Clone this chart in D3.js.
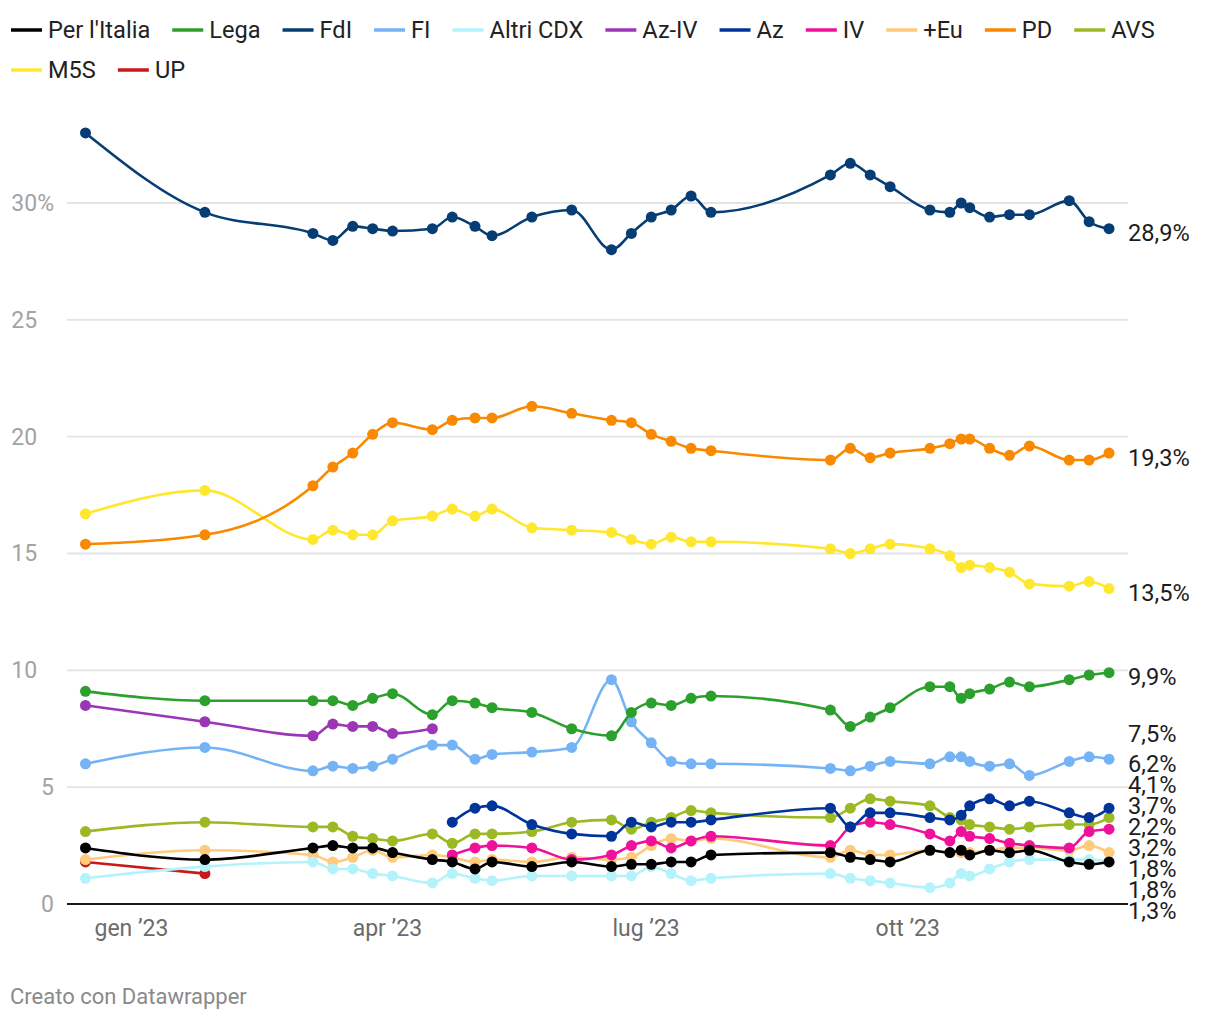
<!DOCTYPE html>
<html>
<head>
<meta charset="utf-8">
<script src="https://cdn.jsdelivr.net/npm/d3@7"></script>
<style>
  html, body { margin: 0; padding: 0; background: #ffffff; }
  svg { display: block; font-family: Roboto, "Noto Sans", sans-serif; }
</style>
</head>
<body>
<svg id="chart" width="1220" height="1020"></svg>
<script>
// ---------- DATA ----------
const pollDates = ["2022-12-16","2023-01-27","2023-03-06","2023-03-13","2023-03-20","2023-03-27","2023-04-03",
  "2023-04-17","2023-04-24","2023-05-02","2023-05-08","2023-05-22","2023-06-05","2023-06-19","2023-06-26",
  "2023-07-03","2023-07-10","2023-07-17","2023-07-24","2023-09-04","2023-09-11","2023-09-18","2023-09-25",
  "2023-10-09","2023-10-16","2023-10-20","2023-10-23","2023-10-30","2023-11-06","2023-11-13","2023-11-27",
  "2023-12-04","2023-12-11"];

const seriesNames  = ["Per l'Italia","Lega","FdI","FI","Altri CDX","Az-IV","Az","IV","+Eu","PD","AVS","M5S","UP"];
const seriesColors = ["#000000","#2ca02c","#063d74","#74b4f6","#b4f3fb","#9b36b7","#00349b","#f0119b","#ffca7c","#f98900","#9bb922","#ffe72e","#c8191c"];

const perItalia = [2.4,1.9,2.4,2.5,2.4,2.4,2.2,1.9,1.8,1.5,1.8,1.6,1.8,1.6,1.7,1.7,1.8,1.8,2.1,2.2,2.0,1.9,1.8,2.3,2.2,2.3,2.1,2.3,2.2,2.3,1.8,1.7,1.8];
const lega      = [9.1,8.7,8.7,8.7,8.5,8.8,9.0,8.1,8.7,8.6,8.4,8.2,7.5,7.2,8.2,8.6,8.5,8.8,8.9,8.3,7.6,8.0,8.4,9.3,9.3,8.8,9.0,9.2,9.5,9.3,9.6,9.8,9.9];
const fdi       = [33.0,29.6,28.7,28.4,29.0,28.9,28.8,28.9,29.4,29.0,28.6,29.4,29.7,28.0,28.7,29.4,29.7,30.3,29.6,31.2,31.7,31.2,30.7,29.7,29.6,30.0,29.8,29.4,29.5,29.5,30.1,29.2,28.9];
const fi        = [6.0,6.7,5.7,5.9,5.8,5.9,6.2,6.8,6.8,6.2,6.4,6.5,6.7,9.6,7.8,6.9,6.1,6.0,6.0,5.8,5.7,5.9,6.1,6.0,6.3,6.3,6.1,5.9,6.0,5.5,6.1,6.3,6.2];
const altriCdx  = [1.1,1.6,1.8,1.5,1.5,1.3,1.2,0.9,1.3,1.1,1.0,1.2,1.2,1.2,1.2,1.6,1.3,1.0,1.1,1.3,1.1,1.0,0.9,0.7,0.9,1.3,1.2,1.5,1.8,1.9,1.9,1.9,1.8];
const azIv      = [8.5,7.8,7.2,7.7,7.6,7.6,7.3,7.5,null,null,null,null,null,null,null,null,null,null,null,null,null,null,null,null,null,null,null,null,null,null,null,null,null];
const az        = [null,null,null,null,null,null,null,null,3.5,4.1,4.2,3.4,3.0,2.9,3.5,3.3,3.5,3.5,3.6,4.1,3.3,3.9,3.9,3.7,3.6,3.8,4.2,4.5,4.2,4.4,3.9,3.7,4.1];
const iv        = [null,null,null,null,null,null,null,null,2.1,2.4,2.5,2.4,1.9,2.1,2.5,2.7,2.4,2.7,2.9,2.5,3.3,3.5,3.4,3.0,2.7,3.1,2.9,2.8,2.6,2.5,2.4,3.1,3.2];
const piuEuropa = [1.9,2.3,2.1,1.8,2.0,2.3,2.0,2.1,2.0,1.8,1.9,1.8,2.0,1.9,2.0,2.5,2.8,2.7,2.8,2.0,2.3,2.1,2.1,2.3,2.2,2.2,2.2,2.3,2.4,2.4,2.3,2.5,2.2];
const pd        = [15.4,15.8,17.9,18.7,19.3,20.1,20.6,20.3,20.7,20.8,20.8,21.3,21.0,20.7,20.6,20.1,19.8,19.5,19.4,19.0,19.5,19.1,19.3,19.5,19.7,19.9,19.9,19.5,19.2,19.6,19.0,19.0,19.3];
const avs       = [3.1,3.5,3.3,3.3,2.9,2.8,2.7,3.0,2.6,3.0,3.0,3.1,3.5,3.6,3.2,3.5,3.7,4.0,3.9,3.7,4.1,4.5,4.4,4.2,3.7,3.6,3.4,3.3,3.2,3.3,3.4,3.4,3.7];
const m5s       = [16.7,17.7,15.6,16.0,15.8,15.8,16.4,16.6,16.9,16.6,16.9,16.1,16.0,15.9,15.6,15.4,15.7,15.5,15.5,15.2,15.0,15.2,15.4,15.2,14.9,14.4,14.5,14.4,14.2,13.7,13.6,13.8,13.5];
const up        = [1.8,1.3,null,null,null,null,null,null,null,null,null,null,null,null,null,null,null,null,null,null,null,null,null,null,null,null,null,null,null,null,null,null,null];

const seriesValues = [perItalia, lega, fdi, fi, altriCdx, azIv, az, iv, piuEuropa, pd, avs, m5s, up];

const yTickValues = [0,5,10,15,20,25,30];
const yTickLabels = ["0","5","10","15","20","25","30%"];
const xTickDates  = ["2023-01-01","2023-04-01","2023-07-01","2023-10-01"];
const xTickLabels = ["gen \u201923","apr \u201923","lug \u201923","ott \u201923"];
// order in which the end-of-line value labels are stacked (top to bottom)
const labelOrder = ["FdI","PD","M5S","Lega","Az-IV","FI","Az","AVS","+Eu","IV","Per l'Italia","Altri CDX","UP"];
const footerText = "Creato con Datawrapper";

// ---------- LAYOUT ----------
const svg = d3.select("#chart");
const W = 1220;
const plotLeft = 67, plotRight = 1128, plotTop = 203, plotBottom = 904;
const fontSize = 23;
const legendFontSize = 23.6;

const parse = d3.timeParse("%Y-%m-%d");
const dates = pollDates.map(parse);

const x = d3.scaleTime()
  .domain([d3.timeHour.offset(dates[0], -156), d3.timeHour.offset(dates[dates.length-1], 160)])
  .range([plotLeft, plotRight]);
const y = d3.scaleLinear().domain([0, 30]).range([plotBottom, plotTop]);

// ---------- GRID ----------
const grid = svg.append("g");
grid.selectAll("line").data(yTickValues).join("line")
  .attr("x1", plotLeft).attr("x2", plotRight)
  .attr("y1", d => y(d)).attr("y2", d => y(d))
  .attr("stroke", d => d === 0 ? "#1a1a1a" : "#e3e3e3")
  .attr("stroke-width", d => d === 0 ? 2.2 : 1.8);

// Y axis labels
const yAxis = d3.axisLeft(y).tickValues(yTickValues).tickSize(0).tickPadding(0)
  .tickFormat((d, i) => yTickLabels[i]);
const yg = svg.append("g").attr("transform", `translate(${plotLeft - 13},0)`).call(yAxis);
yg.select(".domain").remove();
yg.selectAll("text")
  .attr("font-size", fontSize).attr("fill", "#a3a3a3")
  .attr("font-family", "Roboto, sans-serif")
  .each(function(d, i) {
    const t = d3.select(this);
    const lbl = yTickLabels[i];
    if (lbl.length === 2) { // pad two-digit labels so digits align with the "%" label
      t.text(lbl);
      t.append("tspan").attr("fill-opacity", 0).text("%");
    }
  });

// X axis labels
const xAxis = d3.axisBottom(x).tickValues(xTickDates.map(parse)).tickSize(0).tickPadding(0)
  .tickFormat((d, i) => xTickLabels[i]);
const xg = svg.append("g").attr("transform", `translate(0,${plotBottom + 16})`).call(xAxis);
xg.select(".domain").remove();
xg.selectAll("text").attr("font-size", fontSize).attr("fill", "#6b6b6b").attr("font-family", "Roboto, sans-serif");

// ---------- LINES ----------
const series = seriesNames.map((name, i) => ({
  name, color: seriesColors[i],
  points: dates.map((d, j) => ({ date: d, v: seriesValues[i][j] }))
}));

const line = d3.line()
  .defined(d => d.v !== null)
  .x(d => x(d.date)).y(d => y(d.v))
  .curve(d3.curveMonotoneX);

const drawOrder = series.slice().reverse();
const lines = svg.append("g");
drawOrder.forEach(s => {
  const g = lines.append("g");
  g.append("path").datum(s.points).attr("d", line)
    .attr("fill", "none").attr("stroke", s.color).attr("stroke-width", 2.6)
    .attr("stroke-linejoin", "round").attr("stroke-linecap", "round");
  g.selectAll("circle").data(s.points.filter(p => p.v !== null)).join("circle")
    .attr("cx", d => x(d.date)).attr("cy", d => y(d.v)).attr("r", 5.5)
    .attr("fill", s.color);
});

// ---------- END LABELS ----------
const fmt = v => d3.format(".1f")(v).replace(".", ",") + "%";
const labels = labelOrder.map(n => {
  const s = series.find(z => z.name === n);
  const last = s.points.filter(p => p.v !== null).slice(-1)[0];
  return { name: n, text: fmt(last.v), target: y(last.v) + 4.5 };
});
// cluster-based collision avoidance
const gap = 21;
let clusters = labels.map(l => ({ items: [l], center: l.target }));
let changed = true;
while (changed) {
  changed = false;
  for (let i = 0; i < clusters.length - 1; i++) {
    const a = clusters[i], b = clusters[i+1];
    const aBottom = a.center + (a.items.length - 1) / 2 * gap;
    const bTop = b.center - (b.items.length - 1) / 2 * gap;
    if (bTop - aBottom < gap) {
      const items = a.items.concat(b.items);
      const center = d3.mean(items, it => it.target);
      clusters.splice(i, 2, { items, center });
      changed = true;
      break;
    }
  }
}
clusters.forEach(c => c.items.forEach((it, k) => { it.y = c.center + (k - (c.items.length - 1) / 2) * gap; }));

svg.append("g").selectAll("text").data(labels).join("text")
  .attr("x", plotRight).attr("y", d => d.y).attr("dy", "0.35em")
  .attr("font-size", legendFontSize).attr("fill", "#1d1d1d")
  .text(d => d.text);

// ---------- LEGEND ----------
const legend = svg.append("g");
let lx = 11, ly = 30;
const swatchW = 31, swatchGap = 6, itemGap = 22, rowH = 40;
series.forEach(s => {
  const g = legend.append("g");
  const t = g.append("text").attr("font-size", legendFontSize).attr("fill", "#222")
    .attr("dy", "0.35em").text(s.name);
  const tw = t.node().getComputedTextLength();
  if (lx + swatchW + swatchGap + tw > W - 5) { lx = 11; ly += rowH; }
  g.attr("transform", `translate(${lx},${ly})`);
  g.insert("line", "text").attr("x1", 0).attr("x2", swatchW).attr("y1", 0).attr("y2", 0)
    .attr("stroke", s.color).attr("stroke-width", 3.5);
  t.attr("x", swatchW + swatchGap);
  lx += swatchW + swatchGap + tw + itemGap;
});

// ---------- FOOTER ----------
svg.append("text").attr("x", 10).attr("y", 1004).attr("font-size", 22)
  .attr("fill", "#8a8a8a").text(footerText);
</script>
</body>
</html>
